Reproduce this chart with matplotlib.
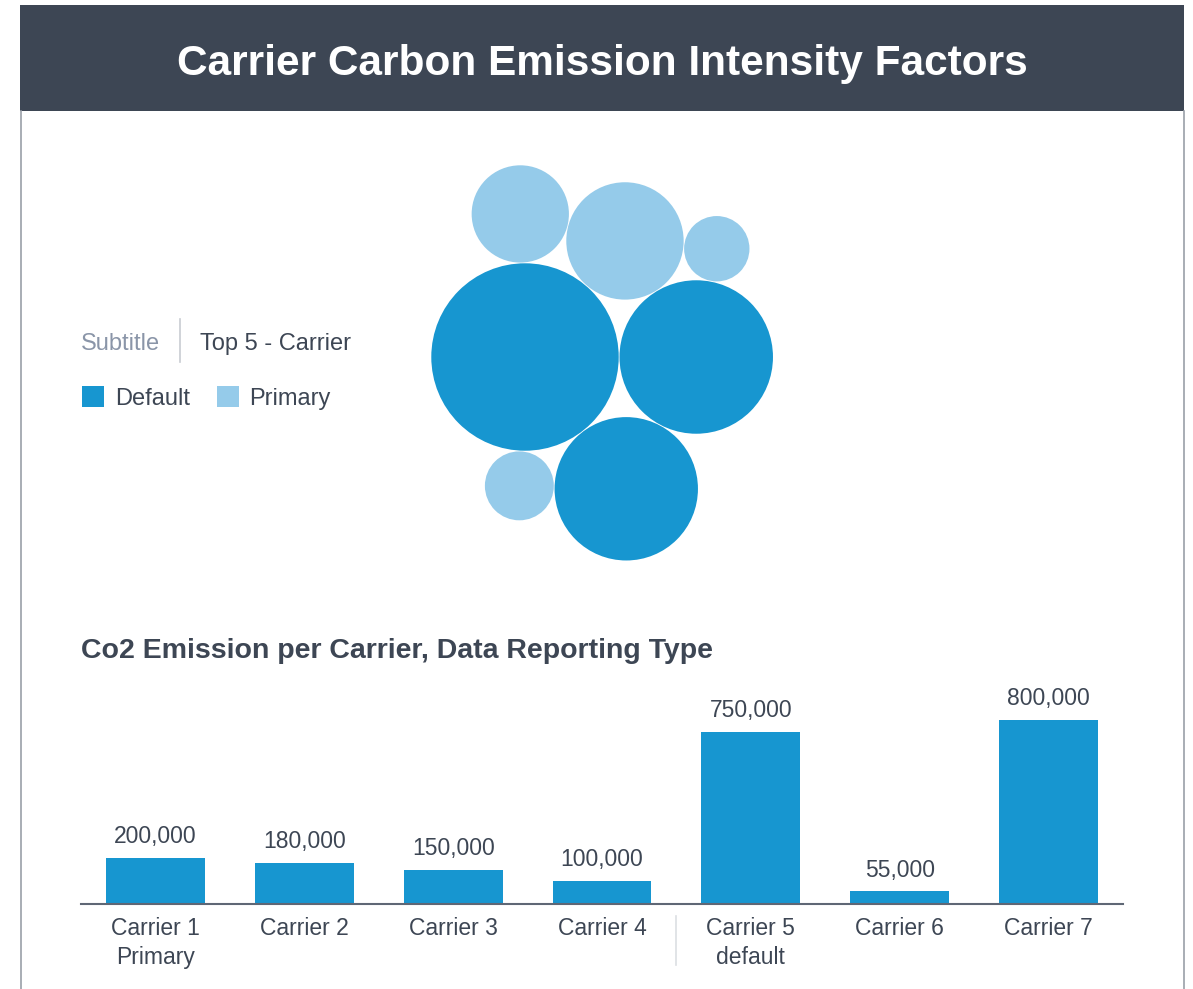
import matplotlib.pyplot as plt
import numpy as np
from matplotlib.patches import Rectangle, Circle

plt.rcParams['font.family'] = ['Liberation Sans', 'DejaVu Sans']

# bar chart data
carriers = ["Carrier 1\nPrimary", "Carrier 2", "Carrier 3", "Carrier 4",
            "Carrier 5\ndefault", "Carrier 6", "Carrier 7"]
emissions = [200000, 180000, 150000, 100000, 750000, 55000, 800000]

# bubble data (area ~ value)
bubble_default = [880, 590, 515]
bubble_primary = [345, 237, 107, 119]

dark_blue = '#1796d0'
light_blue = '#95cbea'
text_dark = '#3d4654'
header_col = '#3d4654'

W, H = 1193, 989
fig = plt.figure(figsize=(W / 100, H / 100), dpi=100)
fig.patch.set_facecolor('white')

bg = fig.add_axes([0, 0, 1, 1])
bg.set_xlim(0, W)
bg.set_ylim(H, 0)
bg.set_aspect('equal')
bg.axis('off')

# header and frame
bg.add_patch(Rectangle((20, 5), 1164, 106, facecolor=header_col, edgecolor='none'))
bg.text(602, 64, "Carrier Carbon Emission Intensity Factors", color='white',
        fontsize=30.5, fontweight='bold', ha='center', va='center')
bg.plot([20.5, 20.5], [111, H], color='#9aa0a8', lw=1.2)
bg.plot([1183.5, 1183.5], [111, H], color='#9aa0a8', lw=1.2)

# legend block
bg.text(81, 344, "Subtitle", color='#8a95a8', fontsize=17, va='center')
bg.plot([180, 180], [319, 362], color='#c8ccd2', lw=1.2)
bg.text(200, 344, "Top 5 - Carrier", color=text_dark, fontsize=17, va='center')
bg.add_patch(Rectangle((82, 386), 22, 21, facecolor=dark_blue, edgecolor='none'))
bg.text(115, 399, "Default", color=text_dark, fontsize=17, va='center')
bg.add_patch(Rectangle((217, 386), 22, 21, facecolor=light_blue, edgecolor='none'))
bg.text(249, 399, "Primary", color=text_dark, fontsize=17, va='center')

# packed bubbles: each new circle is laid tangent to two earlier ones
k = 3.159
gap = 0.8
rad = lambda v: k * np.sqrt(v)


def tangent(p1, r1, p2, r2, r, side):
    p1, p2 = np.asarray(p1), np.asarray(p2)
    d = np.linalg.norm(p2 - p1)
    u = (p2 - p1) / d
    perp = np.array([-u[1], u[0]])
    a, b = r1 + r + gap, r2 + r + gap
    x = (a * a - b * b + d * d) / (2 * d)
    h = np.sqrt(max(a * a - x * x, 0))
    return p1 + x * u + side * h * perp


rA, rB, rC = [rad(v) for v in bubble_default]
rD, rE, rF, rG = [rad(v) for v in bubble_primary]
pA = np.array([525.0, 357.0])
pB = pA + np.array([rA + rB + gap, 0])
pC = tangent(pA, rA, pB, rB, rC, +1)
pD = tangent(pA, rA, pB, rB, rD, -1)
pE = tangent(pA, rA, pD, rD, rE, -1)
pF = tangent(pD, rD, pB, rB, rF, -1)
pG = tangent(pA, rA, pC, rC, rG, +1)

for p, r in [(pA, rA), (pB, rB), (pC, rC)]:
    bg.add_patch(Circle(p, r, facecolor=dark_blue, edgecolor='none'))
for p, r in [(pD, rD), (pE, rE), (pF, rF), (pG, rG)]:
    bg.add_patch(Circle(p, r, facecolor=light_blue, edgecolor='none'))

# bar chart section
bg.text(81, 651, "Co2 Emission per Carrier, Data Reporting Type", color=text_dark,
        fontsize=20.5, fontweight='bold', va='center')

ax = fig.add_axes([81 / W, (H - 904) / H, (1123 - 81) / W, 204 / H])
x = np.arange(len(carriers))
bars = ax.bar(x, emissions, width=0.665, color=dark_blue)
ax.set_xlim(-0.5, len(carriers) - 0.5)
ax.set_ylim(0, max(emissions) * 1.109)
for s in ['top', 'right', 'left']:
    ax.spines[s].set_visible(False)
ax.spines['bottom'].set_color('#5f6775')
ax.spines['bottom'].set_linewidth(1.5)
ax.set_yticks([])
ax.set_xticks(x)
ax.set_xticklabels(carriers, fontsize=16.5, color=text_dark, linespacing=1.35)
ax.tick_params(axis='x', length=0, pad=9.5)
ax.patch.set_alpha(0)

for xi, v in zip(x, emissions):
    ax.annotate(f"{v:,}", (xi, v), xytext=(0, 7), textcoords='offset points',
                ha='center', va='bottom', fontsize=16.5, color=text_dark)

# divider between carrier 4 and 5
ax.plot([3.5, 3.5], [-0.06, -0.30], color='#dcdfe3', lw=1.2,
        transform=ax.get_xaxis_transform(), clip_on=False)

fig.savefig('out.png', dpi=100)
